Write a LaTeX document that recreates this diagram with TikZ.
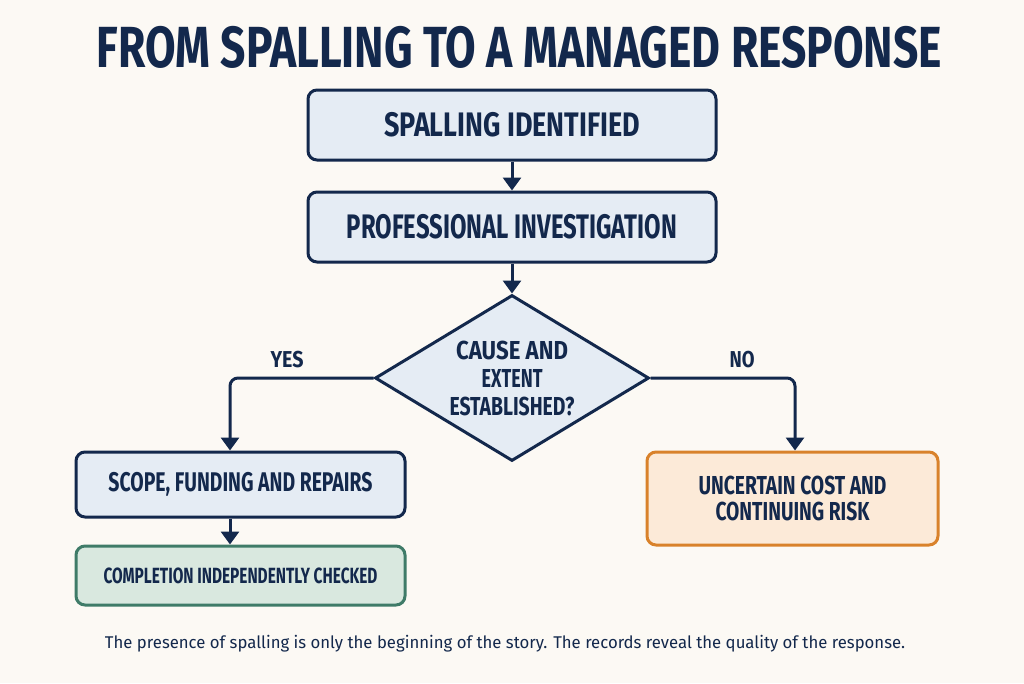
\documentclass[tikz,border=0pt]{standalone}
\usepackage{fontspec}
\usepackage{graphicx}
\setmainfont{Fira Sans}
\usetikzlibrary{shapes.geometric,arrows.meta}
\definecolor{navy}{HTML}{13284C}
\definecolor{bgc}{HTML}{FCF9F4}
\definecolor{boxblue}{HTML}{E5ECF4}
\definecolor{greenfill}{HTML}{D9E8DF}
\definecolor{greenline}{HTML}{3F7B68}
\definecolor{orangefill}{HTML}{FCEAD8}
\definecolor{orangeline}{HTML}{D9822B}
\newcommand\fw[2]{\resizebox{#1pt}{\height}{#2}}
\tikzset{
  flowbox/.style={draw=navy, line width=3pt, rounded corners=9pt, fill=boxblue,
    inner sep=0pt, text=navy, font=\bfseries, align=center},
  decision/.style={diamond, draw=navy, line width=3pt, fill=boxblue, inner sep=0pt,
    text=navy, align=center, minimum width=274pt, minimum height=166pt, aspect=1.65},
  flowarrow/.style={draw=navy, line width=3pt, -{Triangle[length=13pt,width=18pt]}},
  branchlabel/.style={text=navy, font=\bfseries, inner sep=0pt},
}
\begin{document}
\begin{tikzpicture}[x=1pt,y=-1pt]
\fill[bgc] (0,0) rectangle (1024,683);
\useasboundingbox (0,0) rectangle (1024,683);

\node[text=navy, inner sep=0pt] (title) at (519.5,47)
  {\fontsize{58}{58}\selectfont\bfseries\fw{845}{FROM SPALLING TO A MANAGED RESPONSE}};

\node[flowbox, minimum width=408pt, minimum height=70pt] (b1) at (512,125)
  {\fontsize{34}{34}\selectfont\fw{256}{SPALLING IDENTIFIED}};
\node[flowbox, minimum width=408pt, minimum height=70pt] (b2) at (512,227)
  {\fontsize{34}{34}\selectfont\fw{330}{PROFESSIONAL INVESTIGATION}};

\node[decision, font={\bfseries\fontsize{26}{28}\selectfont}] (d) at (512,378)
  {\fw{112}{CAUSE AND}\\\fw{61}{EXTENT}\\\fw{125}{ESTABLISHED?}};

\node[flowbox, minimum width=329pt, minimum height=65pt] (b3) at (240.5,484.5)
  {\fontsize{27}{27}\selectfont\fw{264}{SCOPE, FUNDING AND REPAIRS}};
\node[flowbox, fill=greenfill, draw=greenline, minimum width=329pt, minimum height=59pt] (b4) at (240.5,575.5)
  {\fontsize{22}{22}\selectfont\fw{274}{COMPLETION INDEPENDENTLY CHECKED}};
\node[flowbox, fill=orangefill, draw=orangeline, minimum width=291pt, minimum height=93pt,
  font={\bfseries\fontsize{26}{26}\selectfont}] (b5) at (792.5,498.5)
  {\fw{188}{UNCERTAIN COST AND}\\\fw{154}{CONTINUING RISK}};

\coordinate (yesx) at (d.west -| 230,0);
\coordinate (nox) at (d.east -| 795,0);

\draw[flowarrow] (b1.south) -- (b2.north);
\draw[flowarrow] (b2.south) -- (d.north);
\draw[flowarrow, rounded corners=8pt] (d.west) -- (yesx) -- (yesx |- b3.north);
\draw[flowarrow, rounded corners=8pt] (d.east) -- (nox) -- (nox |- b5.north);
\draw[flowarrow] (yesx |- b3.south) -- (yesx |- b4.north);

\node[branchlabel] (yes) at (287,360) {\fontsize{23}{23}\selectfont\fw{33}{YES}};
\node[branchlabel] (no) at (742,360) {\fontsize{23}{23}\selectfont\fw{25}{NO}};

\node[text=navy, inner sep=0pt] (foot) at (505,644)
  {\fontsize{17}{17}\selectfont\fw{800}{The presence of spalling is only the beginning of the story. The records reveal the quality of the response.}};
\end{tikzpicture}
\end{document}
